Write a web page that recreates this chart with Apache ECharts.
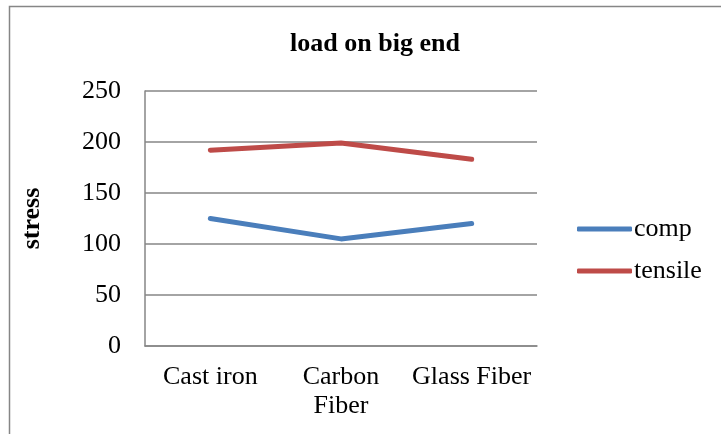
<!DOCTYPE html>
<html>
<head>
<meta charset="utf-8">
<script src="https://cdn.jsdelivr.net/npm/echarts@6/dist/echarts.min.js"></script>
<style>html,body{margin:0;padding:0;background:#fff;}#c{width:721px;height:434px;}</style>
</head>
<body>
<div id="c"></div>
<script>
const categories = ['Cast iron', 'Carbon\nFiber', 'Glass Fiber'];
const comp = [125, 105, 120];
const tensile = [192, 199, 183];
const yTicks = [0, 50, 100, 150, 200, 250];

const font = '"Liberation Serif", "Times New Roman", serif';
const chart = echarts.init(document.getElementById('c'), null, {renderer: 'canvas'});
chart.setOption({
  backgroundColor: '#fff',
  animation: false,
  textStyle: {fontFamily: font},
  graphic: [{
    type: 'rect', shape: {x: 9.5, y: 6.5, width: 730, height: 440},
    style: {fill: 'none', stroke: '#868686', lineWidth: 1.5}, silent: true
  }],
  title: {
    text: 'load on big end', left: 370, top: 26, textAlign: 'center',
    textStyle: {fontFamily: font, fontWeight: 'bold', fontSize: 26, color: '#000'}
  },
  legend: {
    orient: 'vertical', left: 572, top: 211, itemGap: 16, itemWidth: 55, itemHeight: 5,
    icon: 'roundRect',
    textStyle: {fontFamily: font, fontSize: 26, color: '#000', padding: [0,0,0,-3]},
    data: ['comp', 'tensile']
  },
  grid: {left: 145, right: 184, top: 91, bottom: 88},
  xAxis: {
    type: 'category', data: categories, boundaryGap: true,
    axisLine: {lineStyle: {color: '#868686', width: 1.5}},
    axisTick: {show: false},
    axisLabel: {fontFamily: font, fontSize: 26, color: '#000', margin: 17, lineHeight: 29, interval: 0}
  },
  yAxis: {
    type: 'value', min: yTicks[0], max: yTicks[yTicks.length - 1], interval: 50,
    name: 'stress', nameLocation: 'middle', nameGap: 100,
    nameTextStyle: {fontFamily: font, fontWeight: 'bold', fontSize: 26, color: '#000'},
    axisLine: {show: true, lineStyle: {color: '#868686', width: 1.5}},
    axisTick: {show: false},
    splitLine: {lineStyle: {color: '#868686', width: 1.5}},
    axisLabel: {fontFamily: font, fontSize: 26, color: '#000', margin: 24}
  },
  series: [
    {name: 'comp', type: 'line', data: comp, symbol: 'none', color: '#4A7EBB',
     lineStyle: {width: 5, cap: 'round', join: 'round'}},
    {name: 'tensile', type: 'line', data: tensile, symbol: 'none', color: '#BE4B48',
     lineStyle: {width: 5, cap: 'round', join: 'round'}}
  ]
});
</script>
</body>
</html>
